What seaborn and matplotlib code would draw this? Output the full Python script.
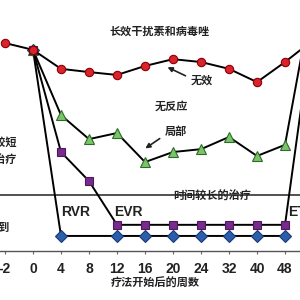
import numpy as np
import pandas as pd
import matplotlib
matplotlib.use("Agg")
import matplotlib.pyplot as plt
import seaborn as sns

sns.set_theme(style="white")
plt.rcParams['font.family'] = ['Noto Sans CJK SC', 'DejaVu Sans']

weeks = ["-2", "0", "4", "8", "12", "16", "20", "24", "32", "40", "48", "72"]
null_resp = [5.80, 5.61, 5.08, 4.99, 4.91, 5.16, 5.35, 5.27, 5.08, 4.71, 5.27, 5.88]
partial = [np.nan, 5.61, 3.79, 3.12, 3.29, 2.48, 2.76, 2.84, 3.18, 2.65, 2.96, 7.2]
evr = [np.nan, 5.61, 2.76, 1.95, 0.73, 0.73, 0.73, 0.73, 0.73, 0.73, 0.73, 6.4]
rvr = [np.nan, 5.61, 0.42, np.nan, 0.42, 0.42, 0.42, 0.42, 0.42, 0.42, 0.42, np.nan]
long_course = 1.56

series = [
    ("RVR", rvr, "D", "#2b5fad", "#1a3a70", 6.5),
    ("局部", partial, "^", "#7cc46a", "#2e6b2a", 7.0),
    ("EVR", evr, "s", "#7a2a8c", "#4b1a5a", 6.2),
    ("无效", null_resp, "o", "#d9232e", "#8b0000", 6.0),
]

fig = plt.figure(figsize=(3, 3), dpi=100)
ax = fig.add_axes([0, 49 / 300, 1, 251 / 300])

pos = np.arange(len(weeks))
for name, vals, mk, fc, ec, ms in series:
    df = pd.DataFrame({"pos": pos, "v": vals}).dropna()
    sns.lineplot(data=df, x="pos", y="v", ax=ax, color="black", lw=1.4,
                 marker=mk, markersize=ms, markerfacecolor=fc,
                 markeredgecolor=ec, markeredgewidth=0.8, sort=False,
                 estimator=None, zorder=3)

ax.axhline(long_course, color="#333333", lw=1.2, zorder=1)

ax.set_xticks(pos)
ax.set_xticklabels(weeks, fontsize=10, fontweight="bold", color="#222222",
                   family=["Liberation Sans", "DejaVu Sans"])
ax.set_yticks([])
ax.set_xlim(-5 / 28, 295 / 28)
ax.set_ylim(0, 7)
ax.tick_params(axis="x", length=2, width=0.8, pad=6, color="#666666", bottom=True)
for s in ["top", "left", "right"]:
    ax.spines[s].set_visible(False)
ax.spines["bottom"].set_color("#555555")
ax.spines["bottom"].set_linewidth(1.0)
ax.set_xlabel("疗法开始后的周数", fontsize=8, fontweight="bold", color="#222222")
ax.xaxis.set_label_coords(155 / 300, -0.104)
ax.set_ylabel("")

def px(x, y):
    return ((x - 5) / 28, (251 - y) / 35.857)

tk = dict(color="#222222", fontweight="bold", fontsize=8, ha="center", va="center")
ax.text(*px(160, 31), "长效干扰素和病毒唑", **tk)
ax.text(*px(202, 80), "无效", **tk)
ax.text(*px(171, 106), "无反应", **tk)
ax.text(*px(176, 131), "局部", **tk)
ax.text(*px(212, 196), "时间较长的治疗", **tk)
ax.text(*px(17, 151), "时间较短\n的治疗", color="#222222", fontweight="bold",
        fontsize=8, ha="right", va="center", linespacing=1.5)
ax.text(*px(10, 227), "达到", color="#222222", fontweight="bold", fontsize=8,
        ha="right", va="center")

ax.annotate("", xy=px(165, 66), xytext=px(188, 77),
            arrowprops=dict(arrowstyle="-|>", color="#222222", lw=1.2, mutation_scale=7))
ax.annotate("", xy=px(143, 150), xytext=px(162, 137),
            arrowprops=dict(arrowstyle="-|>", color="#222222", lw=1.2, mutation_scale=7))

lk = dict(color="#222222", fontweight="bold", fontsize=10, va="center",
          family=["Liberation Sans", "DejaVu Sans"])
ax.text(*px(76, 212), "RVR", ha="center", **lk)
ax.text(*px(128, 212), "EVR", ha="center", **lk)
ax.text(*px(288, 212), "ETR", ha="left", **lk)

fig.savefig("out.png", dpi=100)
